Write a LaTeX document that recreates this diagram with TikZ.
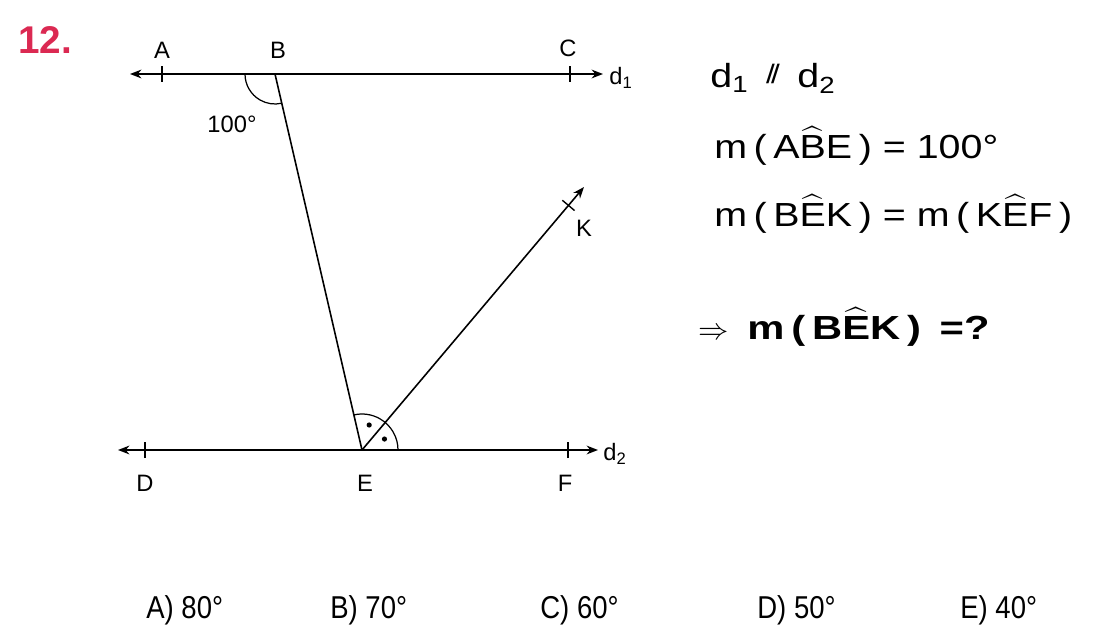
\documentclass[tikz,border=0pt]{standalone}
\usepackage{amsmath}
\usepackage{graphicx}
\usepackage{fontspec}
\setmainfont{Liberation Sans}
\definecolor{qred}{rgb}{0.86,0.16,0.32}
\usetikzlibrary{calc,arrows.meta,positioning}
\newcommand{\angl}[1]{\ensuremath{\widehat{\text{#1}}}}
\newcommand{\wide}[1]{\scalebox{1.18}[1]{#1}}
\tikzset{
	ptlabel/.style={
		font=\fontsize{13.5}{16}\selectfont, inner sep=1pt
	},
	infotext/.style={
		font=\fontsize{19}{23}\selectfont, anchor=west, inner sep=0pt
	},
}

\begin{document}
\begin{tikzpicture}[
		x=0.02cm, y=0.02cm,
		ray/.style={line width=0.9pt, -{Stealth[length=6.5pt,width=5pt]}},
		twoway/.style={line width=0.9pt, {Stealth[length=6.5pt,width=5pt]}-{Stealth[length=6.5pt,width=5pt]}},
		tickmark/.style={line width=0.8pt},
		answer/.style={font=\fontsize{18}{22}\selectfont, anchor=west, inner sep=0pt}
		]
		\useasboundingbox (0,0) rectangle (1100,640);
		
		\coordinate (B) at (275,566);
		\coordinate (E) at (362,190);
		\coordinate (A) at (162,566);
		\coordinate (C) at (570,566);
		\coordinate (D) at (145,190);
		\coordinate (F) at (568,190);
		\coordinate (d1L) at (130,566);
		\coordinate (d1R) at (603,566);
		\coordinate (d2L) at (118,190);
		\coordinate (d2R) at (598,190);
		\coordinate (K) at (584,453);
		\coordinate (Kt) at ($(E)!0.93!(K)$);
		
		\draw[twoway] (d1L) -- (d1R);
		\draw[twoway] (d2L) -- (d2R);
		\draw[line width=0.9pt] (B) -- (E);
		\draw[ray] (E) -- (K);
		
		\foreach \p in {A,C,D,F}
			\draw[tickmark] ($(\p)+(0,-8)$) -- ($(\p)+(0,8)$);
		\draw[tickmark] ($(Kt)+(140:8)$) -- ($(Kt)+(-40:8)$);
		
		\draw[line width=0.7pt] ($(B)+(180:30)$) arc[start angle=180, end angle=283, radius=30];
		\draw[line width=0.7pt] ($(E)+(0:36)$) arc[start angle=0, end angle=103, radius=36];
		\fill ($(E)+(74:26)$) circle (2.6);
		\fill ($(E)+(26:25)$) circle (2.6);
		
		\node[font=\fontsize{22}{26}\selectfont\bfseries, text=qred] (num) at (45,600) {12.};
		
		\node[ptlabel] (lA) at (162,590) {A};
		\node[ptlabel] (lB) at (278,590) {B};
		\node[ptlabel] (lC) at (568,592) {C};
		\node[ptlabel] (ld1) at (621,562) {d\textsubscript{1}};
		\node[ptlabel] (l100) at (232,516) {100°};
		\node[ptlabel] (lK) at (584,412) {K};
		\node[ptlabel] (lD) at (145,157) {D};
		\node[ptlabel] (lE) at (365,157) {E};
		\node[ptlabel] (lF) at (565,157) {F};
		\node[ptlabel] (ld2) at (615,186) {d\textsubscript{2}};
		
		\node[infotext] (par) at (710,562) {\wide{d\textsubscript{1}\, \raisebox{0.1em}{\scalebox{0.8}{/\kern-0.12em/}}\, d\textsubscript{2}}};
		\node[infotext] (given1) at (714,494) {\wide{m\,(\,A\angl{B}E\,) = 100°}};
		\node[infotext] (given2) at (714,426) {\wide{m\,(\,B\angl{E}K\,) = m\,(\,K\angl{E}F\,)}};
		\node[infotext, font=\fontsize{19}{23}\selectfont\bfseries] (ask) at (698,313) {$\Rightarrow$\ \ \scalebox{1.25}[1]{m\,(\,B\angl{E}K\,) \,=?}};
		
		\node[answer] (optA) at (146,30) {\scalebox{0.87}[1]{A) 80°}};
		\node[answer] (optB) at (330,30) {\scalebox{0.87}[1]{B) 70°}};
		\node[answer] (optC) at (540,30) {\scalebox{0.87}[1]{C) 60°}};
		\node[answer] (optD) at (757,30) {\scalebox{0.87}[1]{D) 50°}};
		\node[answer] (optE) at (960,30) {\scalebox{0.87}[1]{E) 40°}};
	\end{tikzpicture}
\end{document}
